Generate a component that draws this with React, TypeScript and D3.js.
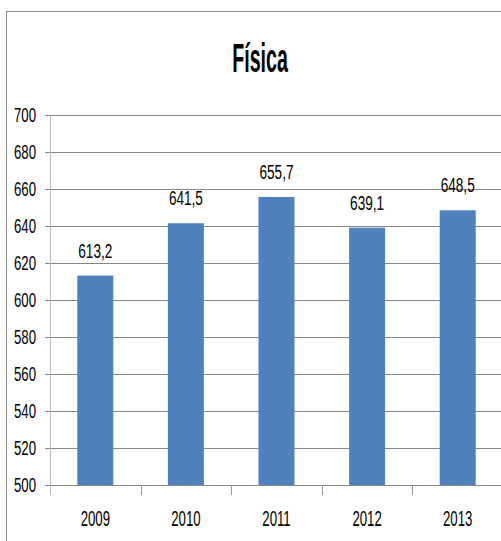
import React from "react";
import { scaleBand, scaleLinear } from "d3";

const title = "Física";
const years = ["2009", "2010", "2011", "2012", "2013"];
const scores = [613.2, 641.5, 655.7, 639.1, 648.5];
const yTicks = [500, 520, 540, 560, 580, 600, 620, 640, 660, 680, 700];

const W = 501;
const H = 541;
const FONT = "'Liberation Sans', Arial, sans-serif";

// squashed text, like the narrow font in the picture
function Squeezed(props: { x: number; y: number; sx: number; size: number; anchor: string; bold?: boolean; children: React.ReactNode }) {
  return (
    <text
      transform={`translate(${props.x},${props.y}) scale(${props.sx},1)`}
      fontFamily={FONT}
      fontSize={props.size}
      fontWeight={props.bold ? "bold" : "normal"}
      textAnchor={props.anchor}
      fill="#000"
    >
      {props.children}
    </text>
  );
}

export default function App() {
  const left = 50, right = 503, top = 115, bottom = 485;

  const x = scaleBand().domain(years).range([left, right]).paddingInner(0).paddingOuter(0);
  const y = scaleLinear().domain([500, 700]).range([bottom, top]);
  const barW = 36;

  return (
    <svg width={W} height={H} style={{ position: "absolute", left: 0, top: 0, background: "#fff" }}>
      <rect x={6.5} y={11.5} width={W + 10} height={H + 10} fill="#fff" stroke="#8c8c8c" strokeWidth={1} />

      <Squeezed x={260} y={72} sx={0.49} size={40} anchor="middle" bold>{title}</Squeezed>

      {/* grid + y ticks */}
      {yTicks.map((t) => (
        <g key={t}>
          <line x1={45} x2={right} y1={Math.round(y(t)) + 0.5} y2={Math.round(y(t)) + 0.5} stroke="#868686" />
          <Squeezed x={36} y={y(t) + 7} sx={0.66} size={20} anchor="end">{t}</Squeezed>
        </g>
      ))}
      <line x1={left + 0.5} x2={left + 0.5} y1={top} y2={bottom + 10} stroke="#b8b8b8" />

      {/* category ticks */}
      {years.map((yr, i) => (
        <line key={"t" + yr} x1={Math.round(x(yr)!) + 0.5} x2={Math.round(x(yr)!) + 0.5} y1={bottom} y2={bottom + 10} stroke={i === 0 ? "#b8b8b8" : "#9a9a9a"} />
      ))}

      {/* bars */}
      {years.map((yr, i) => {
        const cx = x(yr)! + x.bandwidth() / 2;
        return (
          <g key={yr}>
            <rect x={cx - barW / 2} y={y(scores[i])} width={barW} height={bottom - y(scores[i])} fill="#4f81bd" />
            <Squeezed x={cx} y={y(scores[i]) - 18} sx={0.68} size={20} anchor="middle">
              {scores[i].toFixed(1).replace(".", ",")}
            </Squeezed>
            <Squeezed x={cx} y={526} sx={0.6} size={22} anchor="middle">{yr}</Squeezed>
          </g>
        );
      })}
    </svg>
  );
}
